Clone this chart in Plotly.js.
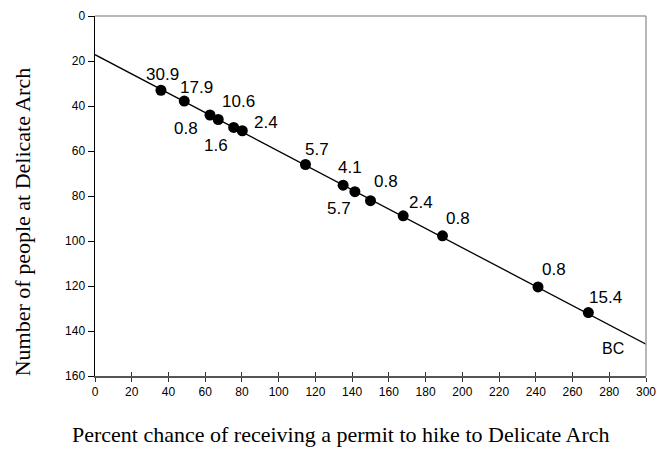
<!DOCTYPE html>
<html>
<head>
<meta charset="utf-8">
<script src="https://cdn.plot.ly/plotly-3.0.1.min.js"></script>
<style>html,body{margin:0;padding:0;background:#fff;}#chart{width:658px;height:449px;}</style>
</head>
<body>
<div id="chart"></div>
<script>
// Data
const permitChance = [35.9, 48.6, 62.6, 67.1, 75.5, 80.2, 114.6, 135.1, 141.5, 150.0, 167.8, 189.2, 241.2, 268.6];
const peopleAtArch = [33.0, 37.8, 44.0, 46.0, 49.5, 51.0, 66.0, 75.2, 78.1, 82.1, 88.8, 97.7, 120.4, 131.8];
const pointLabels = ["30.9", "17.9", "0.8", "10.6", "1.6", "2.4", "5.7", "4.1", "5.7", "0.8", "2.4", "0.8", "0.8", "15.4"];
const fitX = [0, 300];
const fitY = [17.2, 145.9];
const xTicks = [0, 20, 40, 60, 80, 100, 120, 140, 160, 180, 200, 220, 240, 260, 280, 300];
const yTicks = [0, 20, 40, 60, 80, 100, 120, 140, 160];
const curveLabel = "BC";
const curveLabelX = 282;
const curveLabelY = 147.8;
const xTitle = "Percent chance of receiving a permit to hike to Delicate Arch";
const yTitle = "Number of people at Delicate Arch";

// Label pixel offsets (layout only)
const labelShift = [[2,-16],[12,-14],[-24,13],[20,-18],[-18,18],[24,-8],[12,-15],[7,-18],[-16,17],[15,-19],[18,-13],[15,-17],[16,-17],[17,-15]];

const sans = "Liberation Sans, Arial, sans-serif";
const serif = "Liberation Serif, Times New Roman, serif";

const traces = [
  {x: fitX, y: fitY, type: 'scatter', mode: 'lines', line: {color: '#000', width: 1.3}, hoverinfo: 'skip', showlegend: false},
  {x: permitChance, y: peopleAtArch, type: 'scatter', mode: 'markers',
   marker: {symbol: 'circle', size: 11, color: '#000'}, showlegend: false},
  {x: [0, 300], y: [160, 160], xaxis: 'x2', yaxis: 'y', mode: 'lines', line: {width: 0}, hoverinfo: 'skip', showlegend: false}
];

const annotations = pointLabels.map((t, i) => ({
  x: permitChance[i], y: peopleAtArch[i], text: t, showarrow: false,
  xshift: labelShift[i][0], yshift: -labelShift[i][1],
  font: {family: sans, size: 17, color: '#000'}
}));
annotations.push({x: curveLabelX, y: curveLabelY, text: curveLabel, showarrow: false,
  font: {family: sans, size: 16, color: '#000'}});
annotations.push({xref: 'paper', yref: 'paper', x: 0.446, y: -0.2035, xanchor: 'center', yanchor: 'bottom',
  text: xTitle, showarrow: false, font: {family: serif, size: 22, color: '#000'}});
annotations.push({xref: 'paper', yref: 'paper', x: -0.1325, y: 0.427, xanchor: 'center', yanchor: 'middle',
  textangle: -90, text: yTitle, showarrow: false, font: {family: serif, size: 22, color: '#000'}});

const layout = {
  width: 658, height: 449,
  margin: {l: 95, r: 12, t: 16, b: 73, pad: 0},
  paper_bgcolor: '#fff', plot_bgcolor: '#fff',
  showlegend: false,
  xaxis: {
    range: [0, 300], tickvals: xTicks, ticktext: xTicks.map(String),
    showgrid: false, zeroline: false, showline: true, linecolor: '#555', linewidth: 1.5,
    ticks: 'outside', ticklen: 4, tickcolor: '#333', tickwidth: 1,
    tickfont: {family: sans, size: 12, color: '#000'}, fixedrange: true
  },
  xaxis2: {
    range: [0, 300], overlaying: 'x', anchor: 'y', tickvals: xTicks, showticklabels: false,
    showgrid: false, zeroline: false, showline: false,
    ticks: 'inside', ticklen: 4, tickcolor: '#333', tickwidth: 1
  },
  yaxis: {
    range: [160, 0], tickvals: yTicks, ticktext: yTicks.map(String),
    showgrid: false, zeroline: false, showline: true, linecolor: '#000', linewidth: 1.5,
    ticks: 'outside', ticklen: 6, tickcolor: '#000', tickwidth: 1,
    tickfont: {family: sans, size: 12, color: '#000'},
    fixedrange: true
  },
  shapes: [
    {type: 'line', xref: 'paper', yref: 'paper', x0: 0, x1: 1, y0: 1, y1: 1, line: {color: '#a0a0a0', width: 1.5}},
    {type: 'line', xref: 'paper', yref: 'paper', x0: 1, x1: 1, y0: 0, y1: 1, line: {color: '#a0a0a0', width: 1.5}}
  ],
  annotations: annotations
};

Plotly.newPlot('chart', traces, layout, {displayModeBar: false, staticPlot: true});
</script>
</body>
</html>
